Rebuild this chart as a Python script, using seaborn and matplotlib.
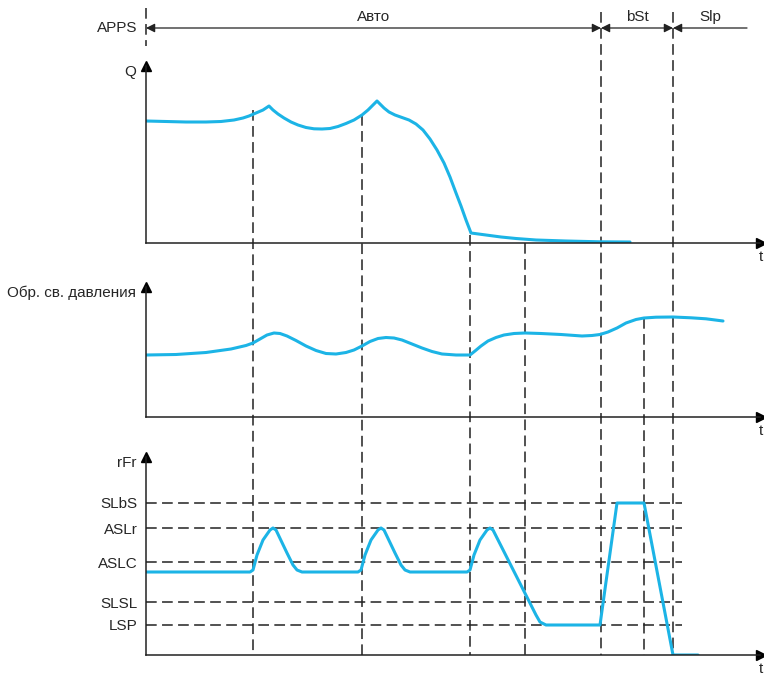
import pandas as pd
import seaborn as sns
import matplotlib.pyplot as plt

# time axis: t = 0 at the vertical axes, units
event_t = [107, 216, 324, 379, 455, 498, 527]
event_top = [110, 115, 235, 243, 12, 318, 12]   # where each dashed line starts (px from top)

# Q panel
q_t = [0, 20, 40, 60, 75, 88, 97, 103, 110, 117, 123,
       127, 132, 138, 145, 152, 160, 168, 176, 184, 192, 200, 208, 216, 222, 227, 231,
       234, 238, 243, 249, 256, 263, 270, 277, 284, 291, 298, 304, 310, 315, 320, 325,
       340, 355, 370, 390, 420, 454, 484]
q_v = [122, 121.5, 121, 121, 121.5, 123, 125, 127, 130, 133, 137,
       133, 129, 125, 121, 118, 115.5, 114.2, 114, 114.5, 116.5, 119.5, 123, 128, 133, 138, 142,
       139, 135, 131, 128, 125.5, 123, 119, 113, 104, 93, 80, 66, 50, 37, 23, 10,
       8, 6, 4.5, 3, 2, 1.2, 1]

# pressure feedback panel
p_t = [0, 30, 60, 85, 100, 107, 114, 121, 128, 134, 141, 150, 160, 170, 180, 190, 200,
       208, 216, 224, 232, 240, 248, 256, 266, 276, 286, 296, 310, 324, 329, 335, 342,
       350, 358, 368, 379, 395, 415, 436, 446, 454, 462, 471, 480, 490, 498, 510, 527,
       545, 560, 577]
p_v = [62, 62.5, 64.5, 68, 71.5, 74, 78, 82, 84, 83.5, 81, 76.5, 71, 66.5, 63.5, 63, 64.5,
       67, 71, 75.5, 78.5, 79.5, 79, 77, 73, 69, 65.5, 63, 62, 62, 66, 71, 76,
       79.5, 82, 83.5, 84, 83.5, 82.5, 81, 81.5, 82.5, 85, 89, 94, 97.5, 99, 99.8, 100,
       99.2, 98.2, 96]

# rFr panel
r_t = [0, 104, 107, 111, 117, 124, 127, 130, 141, 147, 151, 156,
       212, 215, 219, 225, 232, 235, 238, 249, 255, 259, 264,
       321, 324, 328, 334, 341, 344, 347, 390, 394, 400,
       454, 471, 498, 527, 552]
r_v = [83, 83, 85, 100, 115, 125, 127, 125, 102, 90, 85, 83,
       83, 85, 100, 115, 125, 127, 125, 102, 90, 85, 83,
       83, 85, 100, 115, 125, 127, 125, 40, 33, 30,
       30, 152, 152, 0, 0]
r_levels = [152, 127, 93, 53, 30]
r_names = ["SLbS", "ASLr", "ASLC", "SLSL", "LSP"]

modes = ["Авто", "bSt", "Slp"]
mode_t = [228, 491, 564]

sns.set_theme(style="white")
plt.rcParams["font.family"] = ["Liberation Sans", "DejaVu Sans"]
plt.rcParams["font.size"] = 11

blue = "#1cb4e6"
dark = "#222222"
W, H = 764, 675

fig = plt.figure(figsize=(7.64, 6.75), dpi=100)

# overlay in pixel rows, shared time scale
ov = fig.add_axes([0, 0, 1, 1], zorder=0)
ov.set_xlim(-146, 618)
ov.set_ylim(H, 0)
ov.axis("off")
dash = (0, (7, 3.5))
ov.vlines([0], 8, 46, color=dark, lw=1.1, linestyles=[dash])
ov.vlines(event_t, event_top, 655, color=dark, lw=1.1, linestyles=[dash])

ov.text(-9, 28, "APPS", ha="right", va="center")
ap = dict(color=dark, lw=0.9, shrinkA=0, shrinkB=0, mutation_scale=13)
ov.annotate("", xy=(0, 28), xytext=(event_t[4], 28), arrowprops=dict(arrowstyle="<|-|>", **ap))
ov.annotate("", xy=(event_t[4], 28), xytext=(event_t[6], 28), arrowprops=dict(arrowstyle="<|-|>", **ap))
ov.annotate("", xy=(event_t[6], 28), xytext=(601, 28), arrowprops=dict(arrowstyle="-|>", **ap))
for m, t in zip(modes, mode_t):
    ov.text(t, 17, m, ha="center", va="center")


def panel(top, bottom, ymax, label):
    ax = fig.add_axes([146 / W, 1 - bottom / H, 614 / W, (bottom - top) / H], zorder=1)
    ax.patch.set_alpha(0)
    ax.set_xlim(0, 614)
    ax.set_ylim(0, ymax)
    for s in ["top", "right"]:
        ax.spines[s].set_visible(False)
    for s in ["left", "bottom"]:
        ax.spines[s].set_color(dark)
        ax.spines[s].set_linewidth(1.1)
    ax.set_xticks([])
    ax.set_yticks([])
    ax.plot(0, 1, marker="^", ms=7, color="black", transform=ax.transAxes, clip_on=False)
    ax.plot(1.002, 0, marker=">", ms=7, color="black", transform=ax.transAxes, clip_on=False)
    ax.annotate(label, xy=(0, 1), xycoords="axes fraction", xytext=(-7, -4),
                textcoords="offset points", ha="right", va="center")
    ax.annotate("t", xy=(1, 0), xycoords="axes fraction", xytext=(1, -10),
                textcoords="offset points", ha="center", va="center")
    return ax


ax1 = panel(66, 243, 177, "Q")
sns.lineplot(data=pd.DataFrame({"t": q_t, "v": q_v}), x="t", y="v", ax=ax1,
             color=blue, lw=2.2, sort=False)

ax2 = panel(287, 417, 130, "Обр. св. давления")
sns.lineplot(data=pd.DataFrame({"t": p_t, "v": p_v}), x="t", y="v", ax=ax2,
             color=blue, lw=2.2, sort=False)

ax3 = panel(457, 655, 198, "rFr")
ax3.hlines(r_levels, 0, 536, color=dark, lw=1.1, linestyles=[dash])
sns.lineplot(data=pd.DataFrame({"t": r_t, "v": r_v}), x="t", y="v", ax=ax3,
             color=blue, lw=2.2, sort=False)
ax3.set_yticks(r_levels, r_names)
ax3.tick_params(axis="y", length=0, pad=6, labelsize=11)

for ax in (ax1, ax2, ax3):
    ax.set_xlabel("")
    ax.set_ylabel("")

fig.savefig("out.png", dpi=100)
